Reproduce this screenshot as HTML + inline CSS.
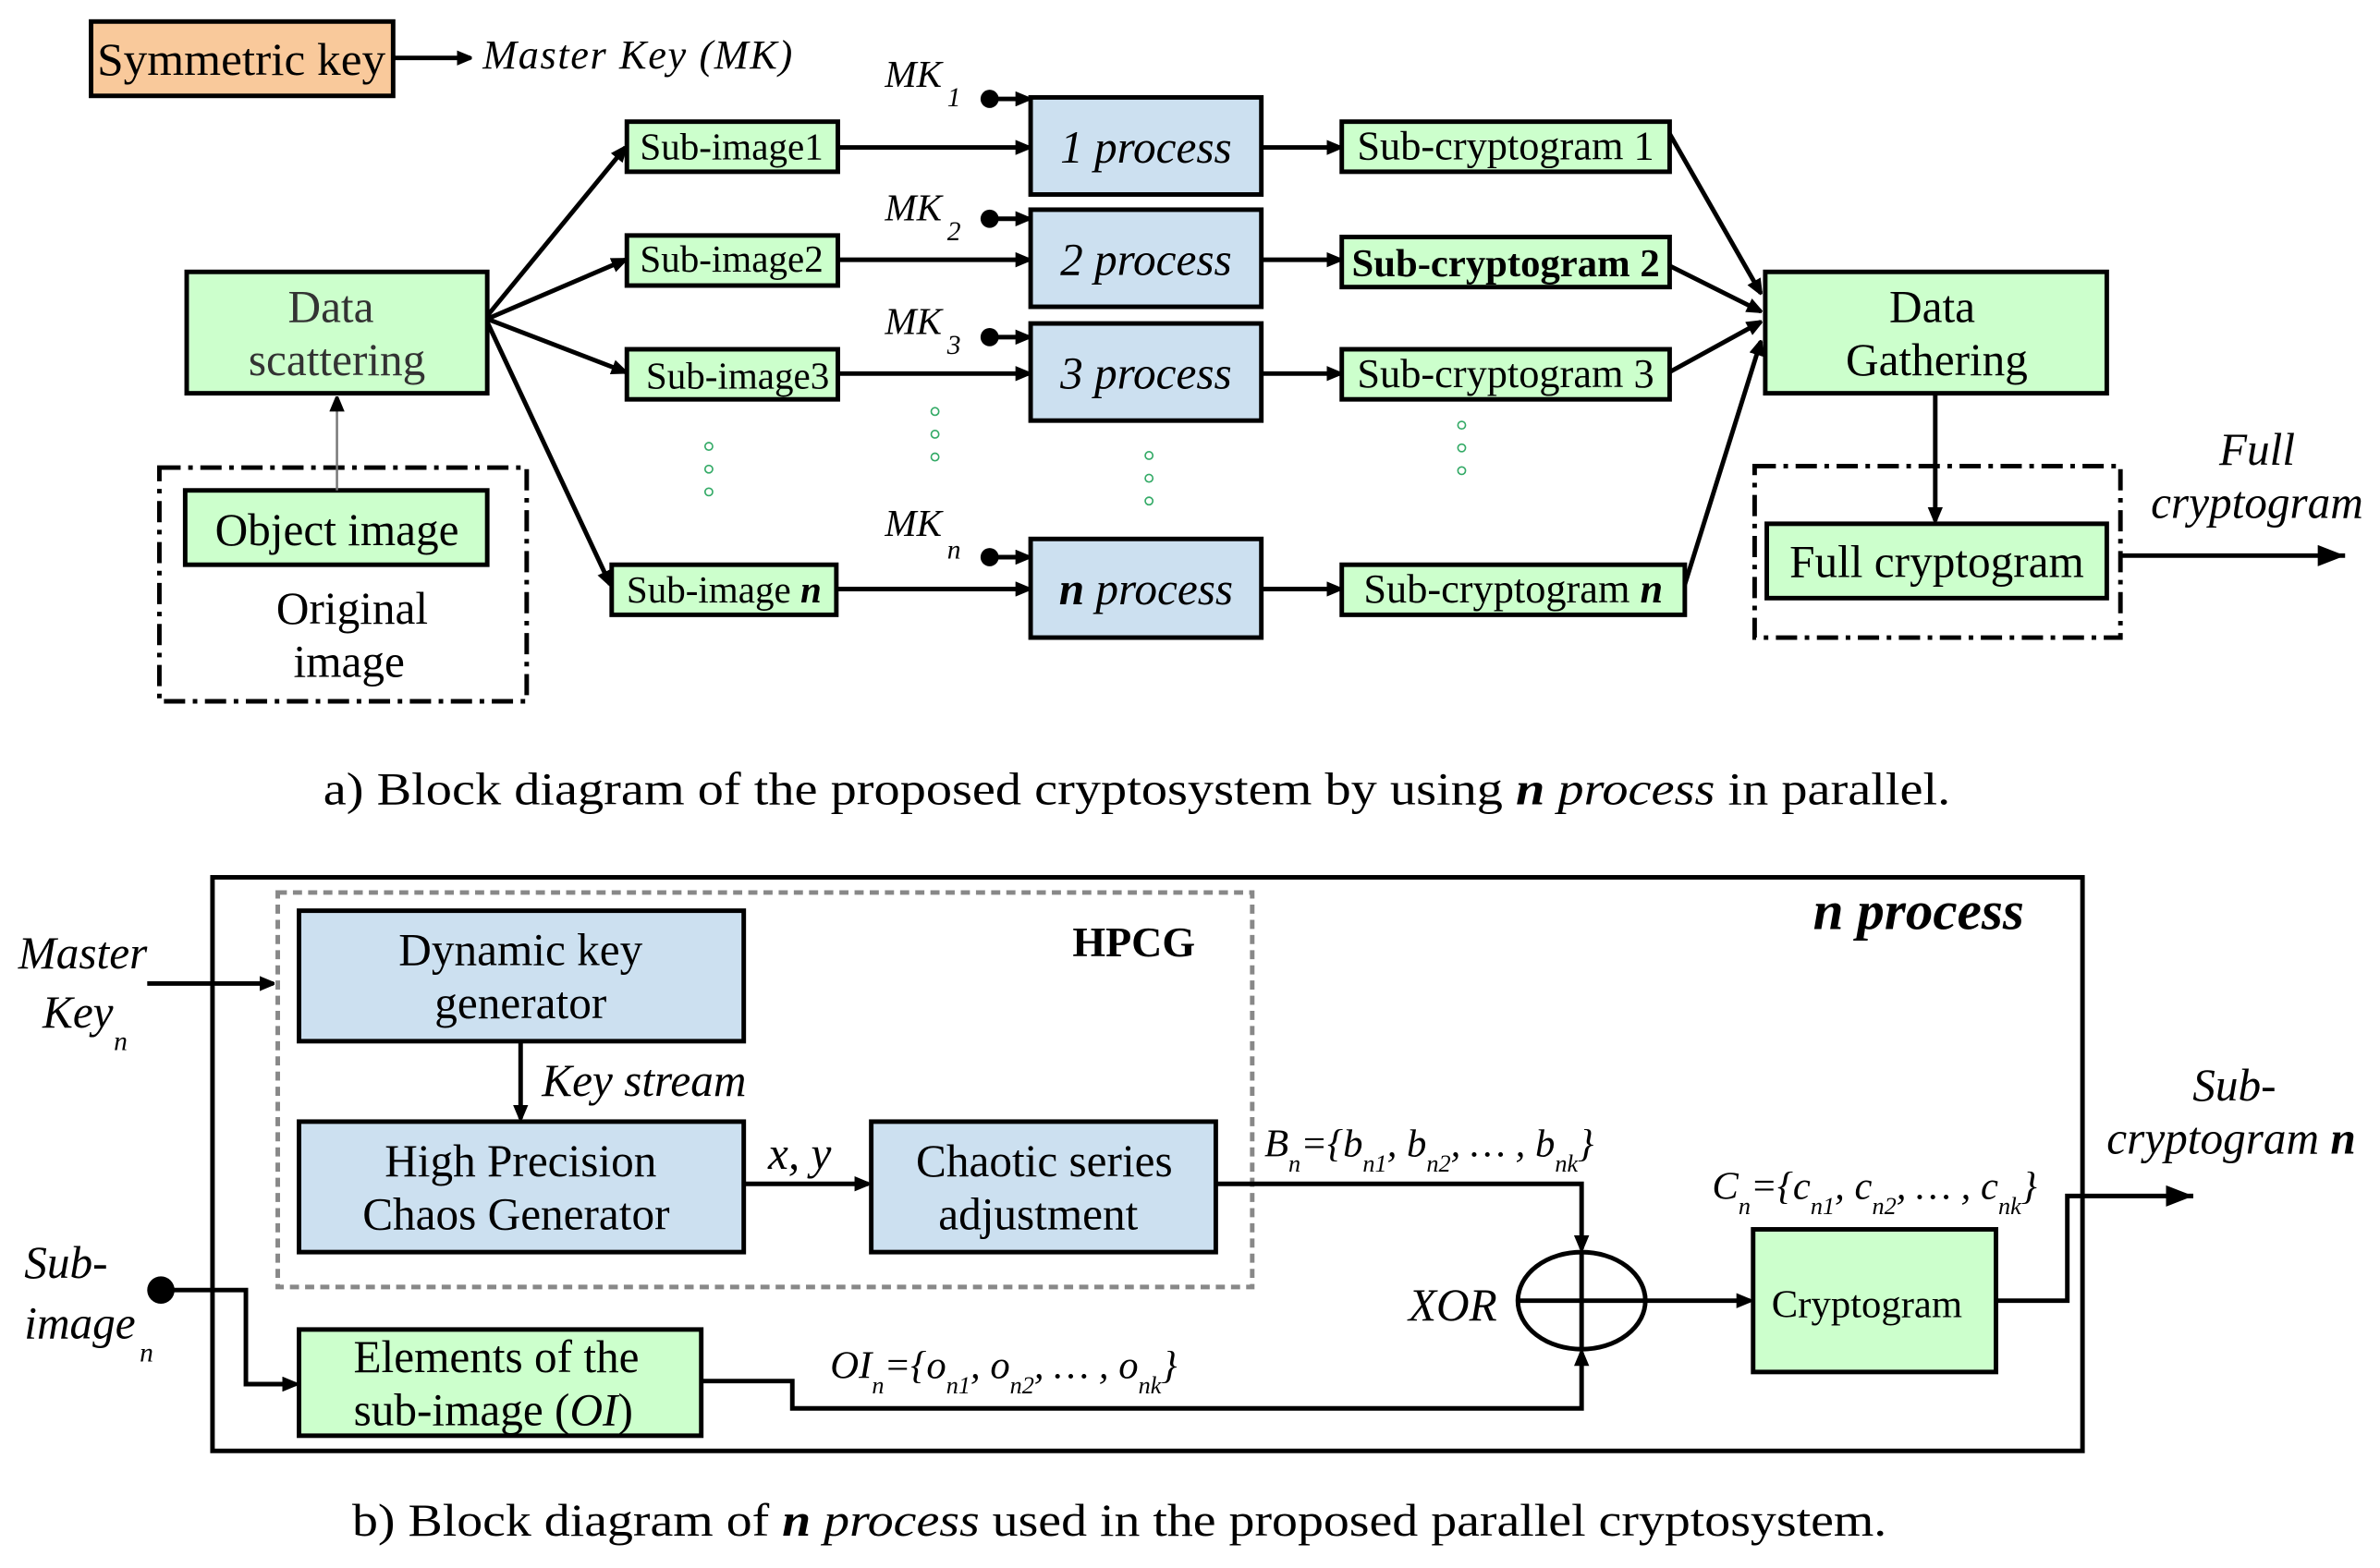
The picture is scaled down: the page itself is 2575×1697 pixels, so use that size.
<!DOCTYPE html>
<html><head><meta charset="utf-8"><style>
html,body{margin:0;padding:0;background:#fff;}
svg{display:block;}
text{font-family:"Liberation Serif",serif;fill:#000;}
</style></head><body>
<svg width="2575" height="1697" viewBox="0 0 1568 1033" xmlns="http://www.w3.org/2000/svg">
<defs>
<marker id="a" markerWidth="10" markerHeight="10" refX="9" refY="5" orient="auto" markerUnits="userSpaceOnUse"><path d="M0,0 L12,5 L0,10 z" fill="#000"/></marker>
<marker id="a2" markerWidth="20" markerHeight="14" refX="18" refY="7" orient="auto" markerUnits="userSpaceOnUse"><path d="M0,0 L18,7 L0,14 z" fill="#000"/></marker>
</defs>
<g stroke="#000" stroke-width="3">
<rect x="60" y="14" width="199" height="49" fill="#f9c99b"/>
<rect x="123" y="179" width="198" height="80" fill="#ccffcc"/>
<rect x="122" y="323" width="199" height="49" fill="#ccffcc"/>
<rect x="413" y="80" width="139" height="33" fill="#ccffcc"/>
<rect x="413" y="155" width="139" height="33" fill="#ccffcc"/>
<rect x="413" y="230" width="139" height="33" fill="#ccffcc"/>
<rect x="403" y="372" width="148" height="33" fill="#ccffcc"/>
<rect x="679" y="64" width="152" height="64" fill="#cce0f0"/>
<rect x="679" y="138" width="152" height="64" fill="#cce0f0"/>
<rect x="679" y="213" width="152" height="64" fill="#cce0f0"/>
<rect x="679" y="355" width="152" height="65" fill="#cce0f0"/>
<rect x="884" y="80" width="216" height="33" fill="#ccffcc"/>
<rect x="884" y="156" width="216" height="33" fill="#ccffcc"/>
<rect x="884" y="230" width="216" height="33" fill="#ccffcc"/>
<rect x="884" y="372" width="226" height="33" fill="#ccffcc"/>
<rect x="1163" y="179" width="225" height="80" fill="#ccffcc"/>
<rect x="1164" y="345" width="224" height="49" fill="#ccffcc"/>
<rect x="105" y="308" width="242" height="154" fill="none" stroke-dasharray="14,5,3,5"/>
<rect x="1156" y="307" width="241" height="113" fill="none" stroke-dasharray="14,5,3,5"/>
</g>
<g stroke="#000" stroke-width="3" fill="none">
<line x1="259" y1="38" x2="310" y2="38" marker-end="url(#a)"/>
<line x1="321" y1="208" x2="412" y2="97" marker-end="url(#a)"/>
<line x1="321" y1="210" x2="412" y2="171" marker-end="url(#a)"/>
<line x1="321" y1="210" x2="412" y2="245" marker-end="url(#a)"/>
<line x1="321" y1="212" x2="402" y2="385" marker-end="url(#a)"/>
<line x1="552" y1="97" x2="678" y2="97" marker-end="url(#a)"/>
<line x1="552" y1="171" x2="678" y2="171" marker-end="url(#a)"/>
<line x1="552" y1="246" x2="678" y2="246" marker-end="url(#a)"/>
<line x1="551" y1="388" x2="678" y2="388" marker-end="url(#a)"/>
<line x1="831" y1="97" x2="883" y2="97" marker-end="url(#a)"/>
<line x1="831" y1="171" x2="883" y2="171" marker-end="url(#a)"/>
<line x1="831" y1="246" x2="883" y2="246" marker-end="url(#a)"/>
<line x1="831" y1="388" x2="883" y2="388" marker-end="url(#a)"/>
<line x1="1100" y1="88" x2="1160" y2="193" marker-end="url(#a)"/>
<line x1="1100" y1="175" x2="1160" y2="205" marker-end="url(#a)"/>
<line x1="1100" y1="245" x2="1160" y2="212" marker-end="url(#a)"/>
<line x1="1110" y1="385" x2="1160" y2="225" marker-end="url(#a)"/>
<line x1="1275" y1="259" x2="1275" y2="343" marker-end="url(#a)"/>
<line x1="1397" y1="366" x2="1545" y2="366" marker-end="url(#a2)"/>
<line x1="652" y1="65" x2="678" y2="65" marker-end="url(#a)"/>
<line x1="652" y1="144" x2="678" y2="144" marker-end="url(#a)"/>
<line x1="652" y1="222" x2="678" y2="222" marker-end="url(#a)"/>
<line x1="652" y1="367" x2="678" y2="367" marker-end="url(#a)"/>
</g>
<line x1="222" y1="323" x2="222" y2="262" stroke="#777" stroke-width="1.5" marker-end="url(#a)"/>
<g fill="#000"><circle cx="652" cy="65" r="6"/><circle cx="652" cy="144" r="6"/><circle cx="652" cy="222" r="6"/><circle cx="652" cy="367" r="6"/></g>
<g fill="none" stroke="#3a6" stroke-width="1"><circle cx="467" cy="294" r="2.5"/><circle cx="467" cy="309" r="2.5"/><circle cx="467" cy="324" r="2.5"/><circle cx="616" cy="271" r="2.5"/><circle cx="616" cy="286" r="2.5"/><circle cx="616" cy="301" r="2.5"/><circle cx="757" cy="300" r="2.5"/><circle cx="757" cy="315" r="2.5"/><circle cx="757" cy="330" r="2.5"/><circle cx="963" cy="280" r="2.5"/><circle cx="963" cy="295" r="2.5"/><circle cx="963" cy="310" r="2.5"/></g>
<g font-size="30">
<text x="64" y="49" textLength="190" lengthAdjust="spacingAndGlyphs">Symmetric key</text>
<text x="318" y="45" font-style="italic" font-size="27" textLength="204">Master Key (MK)</text>
<text x="218" y="212" text-anchor="middle" style="fill:#333">Data</text>
<text x="222" y="247" text-anchor="middle" style="fill:#333">scattering</text>
<text x="222" y="359" text-anchor="middle">Object image</text>
<text x="232" y="411" text-anchor="middle">Original</text>
<text x="230" y="446" text-anchor="middle">image</text>
<text x="482" y="105" text-anchor="middle" font-size="25">Sub-image1</text>
<text x="482" y="179" text-anchor="middle" font-size="25">Sub-image2</text>
<text x="486" y="256" text-anchor="middle" font-size="25">Sub-image3</text>
<text x="477" y="397" text-anchor="middle" font-size="25">Sub-image <tspan font-weight="bold" font-style="italic">n</tspan></text>
<text x="755" y="107" text-anchor="middle" font-style="italic">1 process</text>
<text x="755" y="181" text-anchor="middle" font-style="italic">2 process</text>
<text x="755" y="256" text-anchor="middle" font-style="italic">3 process</text>
<text x="755" y="398" text-anchor="middle" font-style="italic"><tspan font-weight="bold">n</tspan> process</text>
<text x="992" y="105" text-anchor="middle" font-size="27">Sub-cryptogram 1</text>
<text x="992" y="182" text-anchor="middle" font-size="26" font-weight="bold">Sub-cryptogram 2</text>
<text x="992" y="255" text-anchor="middle" font-size="27">Sub-cryptogram 3</text>
<text x="997" y="397" text-anchor="middle" font-size="27">Sub-cryptogram <tspan font-weight="bold" font-style="italic">n</tspan></text>
<text x="1273" y="212" text-anchor="middle">Data</text>
<text x="1276" y="247" text-anchor="middle">Gathering</text>
<text x="1276" y="380" text-anchor="middle">Full cryptogram</text>
<text x="1487" y="306" text-anchor="middle" font-style="italic">Full</text>
<text x="1487" y="341" text-anchor="middle" font-style="italic">cryptogram</text>
<g font-style="italic" font-size="25"><text x="583" y="57">MK</text><text x="624" y="70" font-size="18">1</text>
<text x="583" y="145">MK</text><text x="624" y="158" font-size="18">2</text>
<text x="583" y="220">MK</text><text x="624" y="233" font-size="18">3</text>
<text x="583" y="353">MK</text><text x="624" y="368" font-size="18">n</text></g>
<text x="213" y="530" font-size="30" textLength="1072" lengthAdjust="spacingAndGlyphs">a) Block diagram of the proposed  cryptosystem by using <tspan font-weight="bold" font-style="italic">n</tspan> <tspan font-style="italic">process</tspan> in parallel.</text>
</g>
<rect x="140" y="578" width="1232" height="378" fill="none" stroke="#000" stroke-width="3"/>
<rect x="183" y="588" width="642" height="260" fill="none" stroke="#888" stroke-width="3" stroke-dasharray="6,4"/>
<g stroke="#000" stroke-width="3">
<rect x="197" y="600" width="293" height="86" fill="#cce0f0"/>
<rect x="197" y="739" width="293" height="86" fill="#cce0f0"/>
<rect x="574" y="739" width="227" height="86" fill="#cce0f0"/>
<rect x="197" y="876" width="265" height="70" fill="#ccffcc"/>
<rect x="1155" y="810" width="160" height="94" fill="#ccffcc"/>
<ellipse cx="1042" cy="857" rx="42" ry="32" fill="none"/>
<line x1="1000" y1="857" x2="1084" y2="857"/><line x1="1042" y1="825" x2="1042" y2="889"/>
</g>
<g stroke="#000" stroke-width="3" fill="none">
<line x1="97" y1="648" x2="180" y2="648" marker-end="url(#a)"/>
<line x1="343" y1="686" x2="343" y2="737" marker-end="url(#a)"/>
<line x1="490" y1="780" x2="572" y2="780" marker-end="url(#a)"/>
<polyline points="801,780 1042,780 1042,823" marker-end="url(#a)"/>
<polyline points="462,910 522,910 522,928 1042,928 1042,891" marker-end="url(#a)"/>
<polyline points="106,850 162,850 162,912 195,912" marker-end="url(#a)"/>
<line x1="1084" y1="857" x2="1153" y2="857" marker-end="url(#a)"/>
<polyline points="1315,857 1362,857 1362,788 1445,788" marker-end="url(#a2)"/>
</g>
<circle cx="106" cy="850" r="9" fill="#000"/>
<g font-size="30">
<text x="1264" y="612" text-anchor="middle" font-weight="bold" font-style="italic" font-size="36">n process</text>
<text x="747" y="630" text-anchor="middle" font-weight="bold" font-size="28">HPCG</text>
<text x="343" y="636" text-anchor="middle">Dynamic key</text>
<text x="343" y="671" text-anchor="middle">generator</text>
<text x="357" y="722" font-style="italic">Key stream</text>
<text x="343" y="775" text-anchor="middle">High Precision</text>
<text x="340" y="810" text-anchor="middle">Chaos Generator</text>
<text x="688" y="775" text-anchor="middle">Chaotic series</text>
<text x="684" y="810" text-anchor="middle">adjustment</text>
<text x="327" y="904" text-anchor="middle">Elements of the</text>
<text x="325" y="939" text-anchor="middle">sub-image (<tspan font-style="italic">OI</tspan>)</text>
<text x="1230" y="868" text-anchor="middle" font-size="26">Cryptogram</text>
<text x="506" y="770" font-style="italic">x, y</text>
<text x="928" y="870" font-style="italic">XOR</text>
<g font-style="italic">
<text x="12" y="638">Master</text>
<text x="28" y="677">Key</text><text x="75" y="692" font-size="18">n</text>
<text x="16" y="842">Sub-</text>
<text x="16" y="882">image</text><text x="92" y="897" font-size="18">n</text>
<text x="1472" y="725" text-anchor="middle">Sub-</text>
<text x="1470" y="760" text-anchor="middle">cryptogram <tspan font-weight="bold">n</tspan></text>
<text x="833" y="762" font-size="26">B<tspan font-size="16" dy="10">n</tspan><tspan dy="-10">={b</tspan><tspan font-size="16" dy="10">n1</tspan><tspan dy="-10">, b</tspan><tspan font-size="16" dy="10">n2</tspan><tspan dy="-10">, … , b</tspan><tspan font-size="16" dy="10">nk</tspan><tspan dy="-10">}</tspan></text>
<text x="1128" y="790" font-size="26">C<tspan font-size="16" dy="10">n</tspan><tspan dy="-10">={c</tspan><tspan font-size="16" dy="10">n1</tspan><tspan dy="-10">, c</tspan><tspan font-size="16" dy="10">n2</tspan><tspan dy="-10">, … , c</tspan><tspan font-size="16" dy="10">nk</tspan><tspan dy="-10">}</tspan></text>
<text x="547" y="908" font-size="26">OI<tspan font-size="16" dy="10">n</tspan><tspan dy="-10">={o</tspan><tspan font-size="16" dy="10">n1</tspan><tspan dy="-10">, o</tspan><tspan font-size="16" dy="10">n2</tspan><tspan dy="-10">, … , o</tspan><tspan font-size="16" dy="10">nk</tspan><tspan dy="-10">}</tspan></text>
</g>
<text x="232" y="1012" font-size="30" textLength="1011" lengthAdjust="spacingAndGlyphs">b) Block diagram of <tspan font-weight="bold" font-style="italic">n</tspan> <tspan font-style="italic">process</tspan> used in the proposed parallel cryptosystem.</text>
</g>
</svg>
</body></html>
